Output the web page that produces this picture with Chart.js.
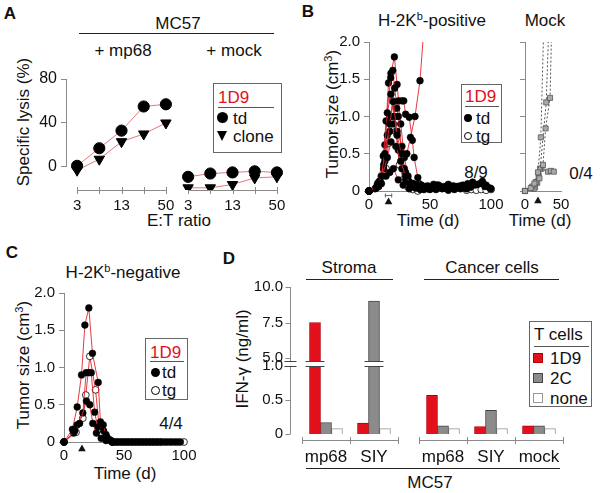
<!DOCTYPE html>
<html>
<head>
<meta charset="utf-8">
<script src="https://cdn.jsdelivr.net/npm/chart.js@4.4.1/dist/chart.umd.min.js"></script>
<style>
html, body { margin: 0; padding: 0; background: #fff; }
#fig { position: relative; width: 600px; height: 493px; overflow: hidden; font-family: "Liberation Sans", Arial, sans-serif; color: #111; }
#fig canvas { position: absolute; }
.t { position: absolute; transform: translate(-50%, -50%); white-space: nowrap; font-size: 17px; line-height: 1; }
.rot { transform: translate(-50%, -50%) rotate(-90deg); }
.pl { font-weight: bold; font-size: 17px; }
.hr { position: absolute; height: 0; border-top: 1px solid #222; }
.lg { position: absolute; border: 1px solid #666; box-sizing: border-box; background: #fff; }
.lg .t { transform: translate(0, -50%); }
.red { color: #e3101b; }
.dot { position: absolute; border-radius: 50%; box-sizing: border-box; }
.sq { position: absolute; width: 10px; height: 10px; box-sizing: border-box; }
sup { font-size: 11px; vertical-align: 6px; line-height: 0; }
</style>
</head>
<body>
<div id="fig">
  <!-- panel A -->
  <div class="t pl" style="left:10px;top:13px">A</div>
  <div class="t" style="left:178px;top:23px">MC57</div>
  <div class="hr" style="left:79px;top:33px;width:195px"></div>
  <div class="t" style="left:123px;top:50px">+ mp68</div>
  <div class="t" style="left:234px;top:50px">+ mock</div>
  <div class="t rot" style="left:23px;top:122px">Specific lysis (%)</div>
  <div class="t" style="left:179px;top:220px">E:T ratio</div>
  <div class="lg" style="left:213px;top:83px;width:69px;height:70px">
    <div class="t red" style="left:4px;top:13px">1D9</div>
    <div class="hr" style="left:4px;top:23px;width:56px;border-color:#555"></div>
    <div class="dot" style="left:3px;top:28px;width:11px;height:11px;background:#000"></div>
    <div class="t" style="left:19px;top:34px">td</div>
    <div style="position:absolute;left:3px;top:47px;width:0;height:0;border-left:5.5px solid transparent;border-right:5.5px solid transparent;border-top:10px solid #000"></div>
    <div class="t" style="left:19px;top:52px">clone</div>
  </div>

  <!-- panel B -->
  <div class="t pl" style="left:308px;top:11px">B</div>
  <div class="t" style="left:432px;top:20px">H-2K<sup>b</sup>-positive</div>
  <div class="t" style="left:545px;top:20px">Mock</div>
  <div class="t rot" style="left:332px;top:114px">Tumor size (cm<sup>3</sup>)</div>
  <div class="t" style="left:428px;top:220px">Time (d)</div>
  <div class="t" style="left:540px;top:220px">Time (d)</div>
  <div class="t" style="left:476px;top:172px">8/9</div>
  <div class="t" style="left:581px;top:173px">0/4</div>
  <div class="lg" style="left:461px;top:84px;width:41px;height:59px">
    <div class="t red" style="left:3px;top:11px">1D9</div>
    <div class="hr" style="left:3px;top:21px;width:34px;border-color:#555"></div>
    <div class="dot" style="left:2px;top:29px;width:8px;height:8px;background:#000"></div>
    <div class="t" style="left:14px;top:33px">td</div>
    <div class="dot" style="left:2px;top:47px;width:8px;height:8px;border:1px solid #000"></div>
    <div class="t" style="left:14px;top:51px">tg</div>
  </div>

  <!-- panel C -->
  <div class="t pl" style="left:12px;top:252px">C</div>
  <div class="t" style="left:123px;top:272px">H-2K<sup>b</sup>-negative</div>
  <div class="t rot" style="left:23px;top:365px">Tumor size (cm<sup>3</sup>)</div>
  <div class="t" style="left:125px;top:473px">Time (d)</div>
  <div class="t" style="left:171px;top:423px">4/4</div>
  <div class="lg" style="left:145px;top:338px;width:43px;height:62px">
    <div class="t red" style="left:4px;top:13px">1D9</div>
    <div class="hr" style="left:4px;top:22px;width:34px;border-color:#555"></div>
    <div class="dot" style="left:5px;top:29px;width:9px;height:9px;background:#000"></div>
    <div class="t" style="left:16px;top:33px">td</div>
    <div class="dot" style="left:5px;top:47px;width:9px;height:9px;border:1px solid #000"></div>
    <div class="t" style="left:16px;top:51px">tg</div>
  </div>

  <!-- panel D -->
  <div class="t pl" style="left:229px;top:258px">D</div>
  <div class="t" style="left:349px;top:267px">Stroma</div>
  <div class="hr" style="left:306px;top:279px;width:87px"></div>
  <div class="t" style="left:492px;top:267px">Cancer cells</div>
  <div class="hr" style="left:424px;top:279px;width:135px"></div>
  <div class="t rot" style="left:242px;top:359px">IFN-γ (ng/ml)</div>
  <div class="hr" style="left:306px;top:468px;width:254px"></div>
  <div class="t" style="left:430px;top:482px">MC57</div>
  <div class="lg" style="left:529px;top:321px;width:63px;height:86px">
    <div class="t" style="left:4px;top:12px">T cells</div>
    <div class="hr" style="left:4px;top:24px;width:55px;border-color:#555"></div>
    <div class="sq" style="left:3px;top:31px;background:#e3101b;border:1px solid #b0000a"></div>
    <div class="t" style="left:20px;top:36px">1D9</div>
    <div class="sq" style="left:3px;top:51px;background:#8b8b8b;border:1px solid #444"></div>
    <div class="t" style="left:20px;top:56px">2C</div>
    <div class="sq" style="left:3px;top:71px;background:#fff;border:1px solid #999"></div>
    <div class="t" style="left:20px;top:76px">none</div>
  </div>
</div>

<script>
// ---- A: specific lysis vs E:T ratio ----
const etRatios = ['3', '6', '13', '25', '50'];
const etShown = ['3', '13', '50'];
const lysisTdMp68 = [1, 17, 33, 55, 57];
const lysisCloneMp68 = [-3, 7, 23, 30, 40];
const lysisTdMock = [-9, -6, -5, -4, -5];
const lysisCloneMock = [-19, -19, -16, -10, -9];
const lysisTicks = [0, 40, 80];

// ---- B: tumor size (cm3) over time, [day, size] ----
const bMouse1 = [[0,0],[6,0.04],[10,0.2],[13,0.62],[16,1.45],[18,1.58],[20.8,1.8],[23,1.43],[26,0.9],[29,0.45],[32,0.2],[36,0.1],[40,0.06],[44,0.05],[48,0.07],[52,0.06],[56,0.08],[60,0.05],[64,0.07],[68,0.04],[72,0.06],[76,0.05],[80,0.03]];
const bMouse2 = [[0,0],[7,0.08],[11.7,0.47],[14,0.94],[17.8,1.52],[19.5,1.62],[21,1.38],[24,1.0],[27,0.5],[30,0.25],[33,0.12],[37,0.08],[41,0.1],[45,0.06],[49,0.05],[53,0.09],[57,0.08],[61,0.06],[65,0.09],[69,0.07],[73,0.06],[77,0.08],[81,0.1],[85,0.12],[89,0.09],[93,0.13],[96,0.08],[100,0.03]];
const bMouse3 = [[0,0],[8,0.12],[12,0.3],[15,0.75],[18,1.0],[22.7,1.11],[24.3,1.21],[27,1.21],[28.5,1.21],[30,1.03],[33,0.99],[35.5,0.68],[37,0.45],[40,0.18],[43,0.08],[47,0.05],[51,0.04],[55,0.06],[59,0.05],[63,0.04],[67,0.06],[71,0.05],[75,0.07],[79,0.04],[83,0.05],[87,0.08],[91,0.1],[95,0.06],[99,0.04]];
const bMouse4 = [[0,0],[5,0.03],[9,0.14],[13,0.4],[17,0.8],[20,0.9],[23,0.8],[27,0.6],[31,0.5],[34,0.72],[37.7,1.0],[41.8,1.48],[46,2.4]];
const bMouse5 = [[0,0],[8,0.06],[12,0.35],[15,1.05],[18,1.3],[21,1.0],[24,0.55],[27,0.3],[30,0.15],[34,0.07],[38,0.05],[42,0.03],[46,0.04],[50,0.02],[54,0.03]];
const bMouse6 = [[0,0],[9,0.1],[13,0.5],[17,0.9],[20,1.2],[23,0.75],[26.5,0.5],[29,0.3],[32,0.15],[36,0.1],[40,0.04],[45,0.02],[50,0.03],[55,0.02],[60,0.03],[65,0.01],[70,0.02],[75,0.03]];
const bMouse7tg = [[0,0],[10,0.1],[14,0.3],[16,0.64],[19.1,1.21],[22,0.8],[25,0.35],[28,0.15],[32,0.05],[36,0.02],[40,0],[80,0.01],[84,0.02],[88,0.01],[92,0.02],[96,0.01],[100,0.02]];
const bMouse8 = [[0,0],[7,0.1],[11,0.2],[15,0.45],[18,0.66],[22,0.6],[26,0.4],[30,0.2],[34,0.1],[38,0.05],[42,0.02]];
const bMouse9 = [[0,0],[6,0.05],[10,0.1],[14,0.2],[17,0.25],[20,0.3],[24,0.15],[28,0.08],[33,0.03],[38,0.04],[43,0.05],[48,0.03]];
const mockMouse1 = [[0,0],[8,0.04],[13,0.1],[18,0.25],[22,0.72],[26,2.2]];
const mockMouse2 = [[0,0],[10,0.06],[15,0.12],[20,0.17],[25,0.35],[28.6,0.84],[34.8,1.25],[37,2.2]];
const mockMouse3 = [[0,0],[12,0.03],[17,0.11],[21,0.3],[29.5,1.19],[33,2.2]];
const mockMouse4 = [[0,0],[14,0.05],[19,0.2],[23,0.3],[32,0.26],[36,0.27],[40,0.26]];
const timeTicks = [0, 50, 100];
const mockTimeTicks = [0, 50];
const sizeTicks = [0, 0.5, 1.0, 1.5, 2.0];
const bTransferDay = 16, bTransferRange = [13, 19], mockTransferDay = 18;

// ---- C: tumor size, H-2Kb-negative ----
const cMouse1 = [[0,0],[7,0.17],[11,0.47],[14.6,0.9],[17.4,1.57],[20.7,1.8],[23.7,1.19],[28.5,0.8],[30.4,0.27],[33,0.15],[36,0.06],[39,0.02],[42,0],[45,0],[48,0],[51,0],[54,0],[57,0],[60,0],[63,0],[66,0],[69,0],[72,0],[75,0],[78,0]];
const cMouse2 = [[0,0],[8,0.12],[11,0.23],[15.7,0.39],[18.5,0.93],[20.7,0.93],[22.7,0.93],[25.5,0.4],[28,0.2],[32.7,0.23],[35,0.1],[38,0.03],[41,0],[44,0],[47,0],[50,0],[53,0],[56,0],[59,0],[62,0],[65,0],[68,0],[71,0],[74,0],[77,0],[81,0],[85,0],[89,0],[93,0],[97,0]];
const cMouse3 = [[0,0],[9,0.15],[13,0.25],[18.7,0.55],[21.5,0.5],[24,0.25],[27,0.12],[31,0.05],[35,0.02],[40,0]];
const cMouse4tg = [[0,0],[10,0.13],[15.7,0.32],[18.2,0.63],[21.5,1.15],[26.3,0.7],[29,0.25],[32,0.1],[36,0.04],[40,0],[80,0],[83,0],[87,0],[91,0],[95,0],[100,0]];
const cTransferDay = 15;

// ---- D: IFN-gamma (ng/ml) ----
const stromaTargets = ['mp68', 'SIY'];
const cancerTargets = ['mp68', 'SIY', 'mock'];
const ifnStroma1D9 = [7.5, 0.16];
const ifnStroma2C = [0.17, 9.0];
const ifnStromaNone = [0.08, 0.08];
const ifnCancer1D9 = [0.57, 0.11, 0.12];
const ifnCancer2C = [0.12, 0.35, 0.12];
const ifnCancerNone = [0.08, 0.08, 0.08];
const ifnLowTicks = [0, 0.5, 1.0];
const ifnHighTicks = [5.0, 7.5, 10.0];

Chart.defaults.font.family = '"Liberation Sans", Arial, sans-serif';
Chart.defaults.font.size = 15;
Chart.defaults.color = '#111';
Chart.defaults.animation = false;
Chart.defaults.plugins.legend.display = false;
Chart.defaults.plugins.tooltip.enabled = false;

const fig = document.getElementById('fig');
const axisGrey = '#8a8a8a';

// box = canvas [left, top, w, h]; area = chart area [x0, y0, x1, y1] in page pixels
function makeChart(box, area, cfg) {
  const c = document.createElement('canvas');
  c.width = box[2];
  c.height = box[3];
  c.style.left = box[0] + 'px';
  c.style.top = box[1] + 'px';
  c.style.width = box[2] + 'px';
  c.style.height = box[3] + 'px';
  fig.appendChild(c);
  const o = cfg.options;
  o.responsive = false;
  o.layout = { padding: { left: 0, top: area[1] - box[1], right: box[0] + box[2] - area[2], bottom: 0 } };
  const noPad = s => { s.paddingTop = s.paddingBottom = s.paddingLeft = s.paddingRight = 0; };
  o.scales.x.afterFit = s => { s.height = box[1] + box[3] - area[3]; noPad(s); };
  o.scales.y.afterFit = s => { s.width = area[0] - box[0]; noPad(s); };
  return new Chart(c, cfg);
}
const setTicks = vals => s => { s.ticks = vals.map(v => ({ value: v })); };

// ---------- A ----------
const aLabels = [...etRatios, ...etRatios];
const gap = etRatios.map(() => null);
const lysisSet = (data, style) => ({
  data,
  pointStyle: style,
  pointRotation: style === 'triangle' ? 180 : 0,
  pointRadius: style === 'triangle' ? 6 : 5.6,
  pointBackgroundColor: '#000',
  pointBorderColor: '#000',
  borderColor: '#e27878',
  borderWidth: 1
});
const lysisAxes = {
  id: 'lysisAxes',
  beforeDatasetsDraw(chart) {
    const { ctx, chartArea: a, scales: { x, y } } = chart;
    ctx.save();
    ctx.strokeStyle = axisGrey;
    ctx.lineWidth = 1;
    ctx.beginPath();
    ctx.moveTo(a.left + 0.5, y.getPixelForValue(0));
    ctx.lineTo(a.left + 0.5, y.getPixelForValue(80));
    const n = etRatios.length;
    [0, n].forEach(s => {
      ctx.moveTo(x.getPixelForValue(s), a.bottom + 0.5);
      ctx.lineTo(x.getPixelForValue(s + n - 1), a.bottom + 0.5);
      for (let i = s; i < s + n; i++) {
        const px = Math.round(x.getPixelForValue(i)) + 0.5;
        ctx.moveTo(px, a.bottom - 3);
        ctx.lineTo(px, a.bottom + 4);
      }
    });
    ctx.stroke();
    ctx.restore();
  }
};
makeChart([20, 60, 280, 175], [66, 79, 288, 190], {
  type: 'line',
  data: {
    labels: aLabels,
    datasets: [
      lysisSet([...lysisTdMp68, ...gap], 'circle'),
      lysisSet([...lysisCloneMp68, ...gap], 'triangle'),
      lysisSet([...gap, ...lysisTdMock], 'circle'),
      lysisSet([...gap, ...lysisCloneMock], 'triangle')
    ]
  },
  options: {
    scales: {
      x: {
        offset: true,
        grid: { display: false, drawTicks: false },
        border: { display: false },
        ticks: { autoSkip: false, maxRotation: 0, padding: 7,
          callback: (v, i) => etShown.includes(aLabels[i]) ? aLabels[i] : '' }
      },
      y: {
        min: -21, max: 80,
        afterBuildTicks: setTicks(lysisTicks),
        grid: { drawOnChartArea: false, tickLength: 5, color: axisGrey },
        border: { display: false },
        ticks: { padding: 4, font: { size: 16 } }
      }
    }
  },
  plugins: [lysisAxes]
});

// ---------- B and C ----------
const lineRed = 'rgba(226, 38, 48, 0.9)';
const tumorSet = (pts, open) => ({
  data: pts.map(([x, y]) => ({ x, y })),
  borderColor: lineRed,
  borderWidth: 1,
  pointRadius: 3.4,
  pointBackgroundColor: open ? '#fff' : '#000',
  pointBorderColor: '#000',
  pointBorderWidth: open ? 0.8 : 0.5,
  clip: { left: 6, right: 6, top: 0, bottom: 6 }
});
const mockSet = pts => ({
  data: pts.map(([x, y]) => ({ x, y })),
  borderColor: '#555',
  borderWidth: 1,
  borderDash: [2, 2],
  pointStyle: 'rect',
  pointRadius: 3.6,
  pointBackgroundColor: '#a9a9a9',
  pointBorderColor: '#555',
  pointBorderWidth: 0.8,
  clip: { left: 6, right: 6, top: 0, bottom: 6 }
});
const tumorScales = (xTicks, showY) => ({
  x: {
    type: 'linear', min: 0, max: xTicks[xTicks.length - 1],
    afterBuildTicks: setTicks(xTicks),
    grid: { display: false, drawTicks: false },
    border: { color: axisGrey },
    ticks: { padding: 5, maxRotation: 0 }
  },
  y: {
    min: 0, max: 2,
    afterBuildTicks: setTicks(sizeTicks),
    grid: { drawOnChartArea: false, tickLength: 5, color: axisGrey },
    border: { color: axisGrey },
    ticks: { display: showY, padding: 4, callback: v => v === 0 ? '0' : v.toFixed(1) }
  }
});
const transferMark = (day, drop, range) => ({
  id: 'transfer',
  afterDraw(chart) {
    const { ctx, chartArea: a, scales: { x } } = chart;
    const px = x.getPixelForValue(day), py = a.bottom + drop;
    ctx.save();
    ctx.fillStyle = '#111';
    ctx.beginPath();
    ctx.moveTo(px, py - 3.5);
    ctx.lineTo(px + 3.8, py + 3.2);
    ctx.lineTo(px - 3.8, py + 3.2);
    ctx.closePath();
    ctx.fill();
    if (range) {
      const x0 = x.getPixelForValue(range[0]), x1 = x.getPixelForValue(range[1]), by = a.bottom + 4.5;
      ctx.strokeStyle = '#666';
      ctx.lineWidth = 1;
      ctx.beginPath();
      ctx.moveTo(x0, by); ctx.lineTo(x1, by);
      ctx.moveTo(x0 + 0.5, by - 2); ctx.lineTo(x0 + 0.5, by + 2);
      ctx.moveTo(x1 - 0.5, by - 2); ctx.lineTo(x1 - 0.5, by + 2);
      ctx.stroke();
    }
    ctx.restore();
  }
});

makeChart([300, 30, 210, 200], [369, 42, 491, 191], {
  type: 'line',
  data: {
    datasets: [
      tumorSet(bMouse9), tumorSet(bMouse8), tumorSet(bMouse6), tumorSet(bMouse5),
      tumorSet(bMouse4), tumorSet(bMouse3), tumorSet(bMouse2), tumorSet(bMouse1),
      tumorSet(bMouse7tg, true)
    ]
  },
  options: { scales: tumorScales(timeTicks, true) },
  plugins: [transferMark(bTransferDay, 10, bTransferRange)]
});

makeChart([505, 30, 95, 200], [525, 42, 561, 191], {
  type: 'line',
  data: { datasets: [mockSet(mockMouse1), mockSet(mockMouse2), mockSet(mockMouse3), mockSet(mockMouse4)] },
  options: { scales: tumorScales(mockTimeTicks, false) },
  plugins: [transferMark(mockTransferDay, 9)]
});

makeChart([15, 280, 190, 200], [64, 293, 184, 442], {
  type: 'line',
  data: { datasets: [tumorSet(cMouse3), tumorSet(cMouse2), tumorSet(cMouse1), tumorSet(cMouse4tg, true)] },
  options: { scales: tumorScales(timeTicks, true) },
  plugins: [transferMark(cTransferDay, 6)]
});

// ---------- D ----------
const barRed = '#e3101b', barGrey = '#8b8b8b';
const ifnBar = (data, bg, edge, extra) => Object.assign({
  data, backgroundColor: bg, borderColor: edge, borderWidth: 1, barThickness: 11
}, extra || {});
const lowClip = { clip: { left: false, right: false, top: 0, bottom: false } };
const lowAxisTop = 1.12;   // leaves room for the axis break above 1.0

const ifnAxis = {
  id: 'ifnAxis',
  beforeDatasetsDraw(chart) {
    const { ctx, chartArea: a, scales: { y } } = chart;
    const ax = a.left - 12 + 0.5;
    ctx.save();
    ctx.strokeStyle = axisGrey;
    ctx.lineWidth = 1;
    ctx.beginPath();
    ctx.moveTo(ax, a.top); ctx.lineTo(ax, a.bottom);
    y.ticks.forEach(t => {
      const py = Math.round(y.getPixelForValue(t.value)) + 0.5;
      ctx.moveTo(ax - 5, py); ctx.lineTo(ax, py);
    });
    ctx.stroke();
    ctx.restore();
  }
};
const groupAxis = {
  id: 'groupAxis',
  beforeDatasetsDraw(chart) {
    const { ctx, chartArea: a } = chart;
    const n = chart.data.labels.length, step = (a.right - a.left) / n, gy = a.bottom + 6.5;
    ctx.save();
    ctx.strokeStyle = axisGrey;
    ctx.lineWidth = 1;
    ctx.beginPath();
    ctx.moveTo(a.left, gy); ctx.lineTo(a.right, gy);
    for (let i = 0; i <= n; i++) {
      const px = Math.round(a.left + i * step) + 0.5;
      ctx.moveTo(px, gy - 3.5); ctx.lineTo(px, gy + 3.5);
    }
    ctx.stroke();
    ctx.restore();
  }
};
const axisBreak = {
  id: 'axisBreak',
  afterDatasetsDraw(chart) {
    const { ctx, chartArea: a, scales: { y } } = chart;
    const yb = Math.round(y.getPixelForValue(1.0));
    const marks = [[a.left - 12 + 0.5, 6]];
    chart.data.datasets.forEach((ds, i) => {
      chart.getDatasetMeta(i).data.forEach((bar, j) => {
        if (ds.data[j] > y.max) marks.push([bar.x, bar.width / 2 + 4]);
      });
    });
    ctx.save();
    marks.forEach(([mx, hw]) => {
      ctx.fillStyle = '#fff';
      ctx.fillRect(mx - hw, yb - 4, hw * 2, 4);
      ctx.strokeStyle = '#444';
      ctx.lineWidth = 1;
      ctx.beginPath();
      ctx.moveTo(mx - hw, yb - 4.5); ctx.lineTo(mx + hw, yb - 4.5);
      ctx.moveTo(mx - hw, yb + 0.5); ctx.lineTo(mx + hw, yb + 0.5);
      ctx.stroke();
    });
    ctx.restore();
  }
};
const hidden = { ticks: { display: false }, grid: { display: false, drawTicks: false }, border: { display: false } };
const catX = () => ({
  grid: { display: false, drawTicks: false }, border: { display: false },
  ticks: { autoSkip: false, maxRotation: 0, minRotation: 0, padding: 13, font: { size: 17 } }
});
const lowY = (show) => ({
  min: 0, max: lowAxisTop,
  afterBuildTicks: setTicks(ifnLowTicks),
  grid: { display: false, drawTicks: false }, border: { display: false },
  ticks: { display: show, padding: 19, callback: v => v === 0 ? '0' : v.toFixed(1) }
});
const high = v => v >= 5 ? v : null;

// stroma, upper segment (5-10)
makeChart([235, 268, 170, 102], [302, 287, 398, 358], {
  type: 'bar',
  data: {
    labels: stromaTargets,
    datasets: [
      ifnBar(ifnStroma1D9.map(high), barRed, '#b0000a', { base: 5 }),
      ifnBar(ifnStroma2C.map(high), barGrey, '#444', { base: 5 }),
      ifnBar(ifnStromaNone.map(high), '#fff', '#999', { base: 5 })
    ]
  },
  options: {
    scales: {
      x: Object.assign({}, hidden),
      y: {
        min: 5, max: 10,
        afterBuildTicks: setTicks(ifnHighTicks),
        grid: { display: false, drawTicks: false }, border: { display: false },
        ticks: { padding: 19, callback: v => v.toFixed(1) }
      }
    }
  },
  plugins: [ifnAxis]
});

// stroma, lower segment (0-1)
makeChart([235, 345, 170, 138], [302, 358, 398, 434], {
  type: 'bar',
  data: {
    labels: stromaTargets,
    datasets: [
      ifnBar(ifnStroma1D9, barRed, '#b0000a', lowClip),
      ifnBar(ifnStroma2C, barGrey, '#444', lowClip),
      ifnBar(ifnStromaNone, '#fff', '#999', lowClip)
    ]
  },
  options: { scales: { x: catX(), y: lowY(true) } },
  plugins: [ifnAxis, groupAxis, axisBreak]
});

// cancer cells (0-1)
makeChart([405, 345, 190, 138], [419, 358, 563, 434], {
  type: 'bar',
  data: {
    labels: cancerTargets,
    datasets: [
      ifnBar(ifnCancer1D9, barRed, '#b0000a', lowClip),
      ifnBar(ifnCancer2C, barGrey, '#444', lowClip),
      ifnBar(ifnCancerNone, '#fff', '#999', lowClip)
    ]
  },
  options: { scales: { x: catX(), y: lowY(false) } },
  plugins: [groupAxis]
});
</script>
</body>
</html>
